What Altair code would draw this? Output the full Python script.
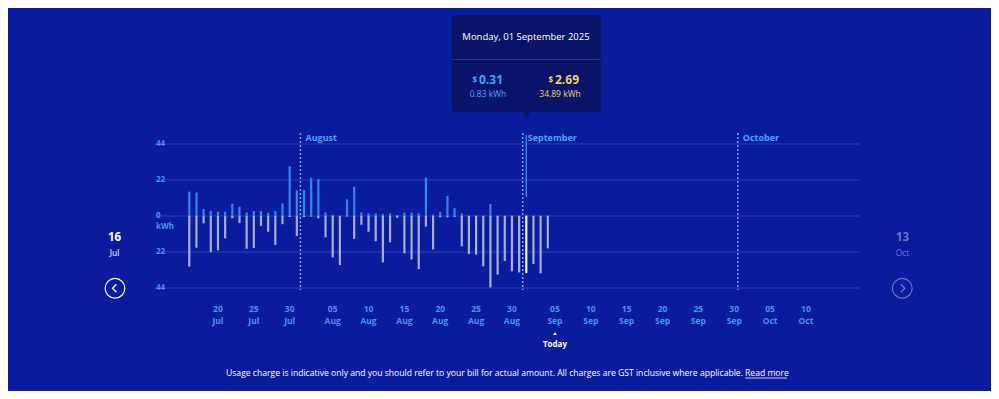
import altair as alt
import pandas as pd

# ---------------- data ----------------
start_day = "2025-07-16"
n_days = 51
# daily solar export (kWh, shown above zero) and grid usage (kWh, shown below zero)
export_kwh = [14.9, 14.4, 4.3, 3.1, 2.7, 2.6, 7.5, 5.7, 2.2, 3.0, 3.0, 2.0, 3.0, 7.7, 30.3, 15.7,
              15.9, 23.5, 22.6, 2.2, 0.6, 0.2, 10.2, 17.9, 2.2, 1.6, 1.6, 1.2, 1.6, 0.6, 2.1, 2.1,
              1.6, 23.5, 0.9, 2.5, 12.3, 4.8, 1.6, 0.3, 0.3, 0.3, 7.2, 0.3, 0.3, 0.3, 0.3,
              0.83, 0.3, 0.3, 0.3]
usage_kwh = [31.0, 19.4, 4.5, 22.2, 21.0, 13.6, 1.4, 4.2, 20.0, 19.5, 6.0, 9.6, 17.7, 5.0, 0.6, 12.2,
             0.6, 0.3, 1.4, 13.0, 25.3, 30.0, 0.3, 14.0, 5.3, 9.6, 15.4, 28.3, 16.1, 1.2, 22.8, 26.6,
             32.5, 6.5, 20.5, 0.8, 0.8, 0.5, 18.5, 23.3, 23.6, 30.8, 43.6, 35.8, 27.5, 33.8, 34.5,
             34.89, 29.4, 35.0, 19.8]
highlight_day = "2025-09-01T12:00:00"

grid_values = [44, 22, 0, -22, -44]
grid_labels = ["44", "22", "0", "22", "44"]

month_starts = ["2025-08-01T00:00:00", "2025-09-01T00:00:00", "2025-10-01T00:00:00"]
month_names = ["August", "September", "October"]

tick_dates = ["2025-07-20", "2025-07-25", "2025-07-30", "2025-08-05", "2025-08-10", "2025-08-15",
              "2025-08-20", "2025-08-25", "2025-08-30", "2025-09-05", "2025-09-10", "2025-09-15",
              "2025-09-20", "2025-09-25", "2025-09-30", "2025-10-05", "2025-10-10"]
tick_days = ["20", "25", "30", "05", "10", "15", "20", "25", "30", "05", "10", "15", "20", "25", "30", "05", "10"]
tick_months = ["Jul", "Jul", "Jul", "Aug", "Aug", "Aug", "Aug", "Aug", "Aug", "Sep", "Sep", "Sep",
               "Sep", "Sep", "Sep", "Oct", "Oct"]

today = "2025-09-05T12:00:00"

# ---------------- tables ----------------
dates = pd.date_range(start_day + " 12:00", periods=n_days, freq="D").strftime("%Y-%m-%dT%H:%M:%S")
df = pd.DataFrame({
    "date": dates,
    "export": export_kwh,
    "usage": [-u for u in usage_kwh],
})
df["hl"] = df["date"] == highlight_day

grid_df = pd.DataFrame({"v": grid_values, "t": grid_labels})
month_df = pd.DataFrame({"date": month_starts, "label": month_names})
tick_df = pd.DataFrame({"date": [d + "T12:00:00" for d in tick_dates], "day": tick_days, "mon": tick_months})
one = pd.DataFrame({"a": [0]})
hl_df = pd.DataFrame({"date": [highlight_day]})
today_df = pd.DataFrame({"date": [today]})

W, H = 705, 144
BG = "#0a1c9e"
TIP = "#0a1468"
LAB = "#4c93ea"
FONT = "Open Sans"

xs = alt.Scale(domain=[alt.DateTime(year=2025, month=7, date=11, hours=17, minutes=15),
                       alt.DateTime(year=2025, month=10, date=18, hours=1)])
ys = alt.Scale(domain=[-44, 44], nice=False, zero=False)
X = alt.X("date:T", scale=xs, axis=None)

grid = alt.Chart(grid_df).mark_rule(color="#2641c4", strokeWidth=1).encode(
    y=alt.Y("v:Q", scale=ys, axis=None), x=alt.value(0), x2=alt.value(W))

ylab = alt.Chart(grid_df).mark_text(align="left", baseline="middle", fontSize=8, fontWeight="bold",
                                    color=LAB, font=FONT).encode(
    y=alt.Y("v:Q", scale=ys, axis=None), x=alt.value(1), text="t:N")
kwh = alt.Chart(one).mark_text(align="left", baseline="middle", fontSize=8, fontWeight="bold",
                               color=LAB, font=FONT, text="kWh").encode(x=alt.value(1), y=alt.value(82.5))

mlines = alt.Chart(month_df).mark_rule(strokeDash=[2, 2], color="#6aa8f4", strokeWidth=1.5).encode(
    x=X, y=alt.value(-11), y2=alt.value(146))
mtext = alt.Chart(month_df).mark_text(align="left", baseline="middle", dx=5, fontSize=9,
                                      fontWeight="bold", color="#4aa2f6", font=FONT).encode(
    x=X, y=alt.value(-6), text="label:N")

cursor = alt.Chart(hl_df).mark_rule(color="#3b84ea", strokeWidth=1.5).encode(
    x=X, y=alt.value(-9), y2=alt.value(53))

exp_bars = alt.Chart(df).mark_rule(strokeWidth=2.2, color="#3685e8").encode(
    x=X, y=alt.Y("export:Q", scale=ys, axis=None), y2=alt.datum(0))
use_bars = alt.Chart(df).mark_rule(strokeWidth=2.2).encode(
    x=X, y=alt.Y("usage:Q", scale=ys, axis=None), y2=alt.datum(0),
    color=alt.condition("datum.hl", alt.value("#f2f4fc"), alt.value("#a7afd2")))

tday = alt.Chart(tick_df).mark_text(baseline="middle", fontSize=8.5, fontWeight="bold", color=LAB,
                                    font=FONT).encode(x=X, y=alt.value(165), text="day:N")
tmon = alt.Chart(tick_df).mark_text(baseline="middle", fontSize=8.5, fontWeight="bold", color=LAB,
                                    font=FONT).encode(x=X, y=alt.value(176.5), text="mon:N")

today_tri = alt.Chart(today_df).mark_point(shape="triangle-up", filled=True, size=14, color="white",
                                           opacity=1).encode(x=X, y=alt.value(189.5))
today_txt = alt.Chart(today_df).mark_text(baseline="middle", fontSize=8, fontWeight="bold", color="white",
                                          font=FONT, text="Today").encode(x=X, y=alt.value(200.5))

# tooltip box
tip_box = alt.Chart(one).mark_rect(color=TIP, cornerRadius=2).encode(
    x=alt.value(296.5), x2=alt.value(446), y=alt.value(-129), y2=alt.value(-32))
tip_arrow = alt.Chart(one).mark_point(shape="triangle-down", filled=True, size=70, color=TIP,
                                      opacity=1).encode(x=alt.value(371.5), y=alt.value(-29.5))
tip_div = alt.Chart(one).mark_rule(color="#27347a", strokeWidth=1).encode(
    x=alt.value(296.5), x2=alt.value(446), y=alt.value(-84.5))
tip_date = alt.Chart(one).mark_text(baseline="middle", fontSize=9.5, color="white", font=FONT,
                                    text="Monday, 01 September 2025").encode(x=alt.value(371), y=alt.value(-107))
d1 = alt.Chart(one).mark_text(align="right", baseline="middle", fontSize=8, color="#3ea6f4", font=FONT,
                              fontWeight="bold", text="$").encode(x=alt.value(322), y=alt.value(-63))
v1 = alt.Chart(one).mark_text(align="left", baseline="middle", fontSize=12, color="#3ea6f4", font=FONT,
                              fontWeight="bold", text="0.31").encode(x=alt.value(324), y=alt.value(-64))
k1 = alt.Chart(one).mark_text(baseline="middle", fontSize=8.5, color="#3ea6f4", font=FONT,
                              text="0.83 kWh").encode(x=alt.value(333), y=alt.value(-50.5))
d2 = alt.Chart(one).mark_text(align="right", baseline="middle", fontSize=8, color="#f0d262", font=FONT,
                              fontWeight="bold", text="$").encode(x=alt.value(398), y=alt.value(-63))
v2 = alt.Chart(one).mark_text(align="left", baseline="middle", fontSize=12, color="#f0d262", font=FONT,
                              fontWeight="bold", text="2.69").encode(x=alt.value(400), y=alt.value(-64))
k2 = alt.Chart(one).mark_text(baseline="middle", fontSize=8.5, color="#f0d262", font=FONT,
                              text="34.89 kWh").encode(x=alt.value(405), y=alt.value(-50.5))

# navigation
nav_l1 = alt.Chart(one).mark_text(baseline="middle", fontSize=11.5, fontWeight="bold", color="white",
                                  font=FONT, text="16").encode(x=alt.value(-40.5), y=alt.value(94))
nav_l2 = alt.Chart(one).mark_text(baseline="middle", fontSize=8.5, color="white",
                                  font=FONT, text="Jul").encode(x=alt.value(-40.5), y=alt.value(109))
nav_lc = alt.Chart(one).mark_point(shape="circle", size=390, filled=False, color="white",
                                   strokeWidth=1.2, opacity=1).encode(x=alt.value(-40), y=alt.value(144.3))
nav_lv = alt.Chart(one).mark_point(shape="M 0.5 -1 L -0.5 0 L 0.5 1", size=64, filled=False,
                                   color="white", strokeWidth=1.3, opacity=1).encode(
    x=alt.value(-40.5), y=alt.value(144.3))
FADE = "#6877c2"
nav_r1 = alt.Chart(one).mark_text(baseline="middle", fontSize=11.5, fontWeight="bold", color=FADE,
                                  font=FONT, text="13").encode(x=alt.value(747.5), y=alt.value(94))
nav_r2 = alt.Chart(one).mark_text(baseline="middle", fontSize=8.5, color=FADE,
                                  font=FONT, text="Oct").encode(x=alt.value(747.5), y=alt.value(109))
nav_rc = alt.Chart(one).mark_point(shape="circle", size=390, filled=False, color=FADE,
                                   strokeWidth=1.2, opacity=1).encode(x=alt.value(747.3), y=alt.value(144.3))
nav_rv = alt.Chart(one).mark_point(shape="M -0.5 -1 L 0.5 0 L -0.5 1", size=64, filled=False,
                                   color=FADE, strokeWidth=1.3, opacity=1).encode(
    x=alt.value(747.8), y=alt.value(144.3))

# footer
foot = alt.Chart(one).mark_text(align="left", baseline="middle", fontSize=8.6, color="white", font=FONT,
                                text="Usage charge is indicative only and you should refer to your bill for actual amount. All charges are GST inclusive where applicable.").encode(
    x=alt.value(71), y=alt.value(229))
foot2 = alt.Chart(one).mark_text(align="left", baseline="middle", fontSize=8.6, color="white", font=FONT,
                                 text="Read more").encode(x=alt.value(590), y=alt.value(229))
foot_ul = alt.Chart(one).mark_rule(color="white", strokeWidth=0.8).encode(
    x=alt.value(590), x2=alt.value(632), y=alt.value(234))

chart = alt.layer(
    grid, mlines, mtext, cursor, exp_bars, use_bars, ylab, kwh, tday, tmon, today_tri, today_txt,
    tip_box, tip_arrow, tip_div, tip_date, d1, v1, k1, d2, v2, k2,
    nav_l1, nav_l2, nav_lc, nav_lv, nav_r1, nav_r2, nav_rc, nav_rv, foot, foot2, foot_ul,
).properties(
    width=W, height=H,
    autosize=alt.AutoSizeParams(type="none"),
    padding={"left": 147, "top": 136, "right": 131, "bottom": 103},
    background=BG,
).configure_view(stroke=None)

chart.save("out.html", embed_options={"renderer": "svg", "actions": False})
